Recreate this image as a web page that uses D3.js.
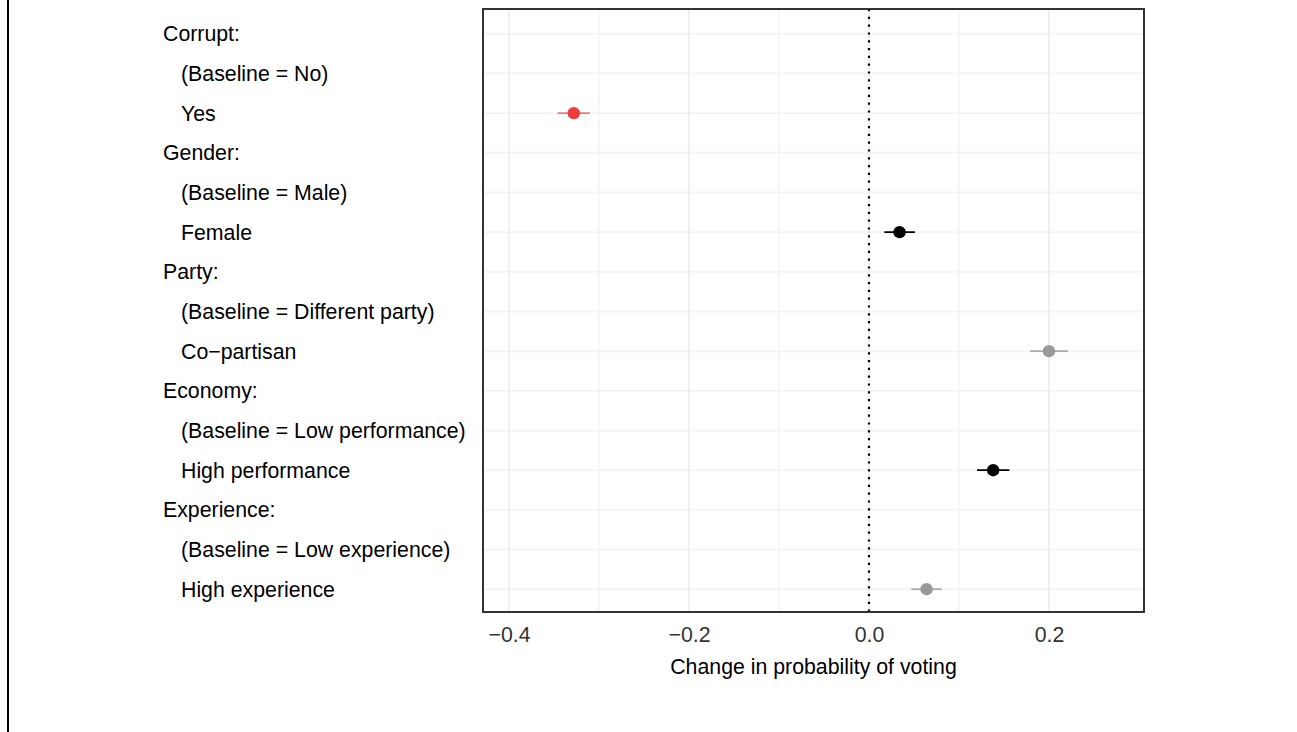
<!DOCTYPE html>
<html>
<head>
<meta charset="utf-8">
<script src="https://cdn.jsdelivr.net/npm/d3@7"></script>
<style>
  html, body { margin: 0; padding: 0; background: #fff; }
  svg { display: block; }
  text { font-family: "Liberation Sans", Arial, Helvetica, sans-serif; }
</style>
</head>
<body>
<svg id="chart" width="1297" height="732"></svg>
<script>
// Row labels, top to bottom (headers are flush, levels are indented)
const rowLabels = [
  "Corrupt:", "(Baseline = No)", "Yes",
  "Gender:", "(Baseline = Male)", "Female",
  "Party:", "(Baseline = Different party)", "Co\u2212partisan",
  "Economy:", "(Baseline = Low performance)", "High performance",
  "Experience:", "(Baseline = Low experience)", "High experience"
];
const rowIsHeader = [1,0,0, 1,0,0, 1,0,0, 1,0,0, 1,0,0];

// Estimated effects with confidence bounds
const effectRows  = ["Yes", "Female", "Co\u2212partisan", "High performance", "High experience"];
const effectEst   = [-0.328, 0.034, 0.200, 0.138, 0.064];
const effectLow   = [-0.346, 0.017, 0.179, 0.120, 0.047];
const effectHigh  = [-0.310, 0.051, 0.221, 0.156, 0.081];
const effectGroup = ["red", "black", "grey", "black", "grey"];

const xTicks = [-0.4, -0.2, 0.0, 0.2];
const xMinorTicks = [-0.3, -0.1, 0.1];
const xTitle = "Change in probability of voting";

const pointColor = { red: "#EE3B3B", black: "#000000", grey: "#999999" };
const barColor   = { red: "#F07C7C", black: "#000000", grey: "#AAAAAA" };

const fontSize = 21.3;

const svg = d3.select("#chart");

// frame line on the left edge
svg.append("line")
  .attr("x1", 8).attr("x2", 8).attr("y1", 0).attr("y2", 732)
  .attr("stroke", "#000").attr("stroke-width", 2);

const panel = { left: 483, right: 1144, top: 9, bottom: 612 };

const x = d3.scaleLinear().domain([-0.4289, 0.3056]).range([panel.left, panel.right]);
const y = d3.scalePoint().domain(rowLabels).range([panel.top, panel.bottom]).padding(0.6);

const g = svg.append("g");

// minor vertical grid
g.selectAll("line.vminor").data(xMinorTicks).join("line")
  .attr("x1", d => x(d)).attr("x2", d => x(d))
  .attr("y1", panel.top).attr("y2", panel.bottom)
  .attr("stroke", "#F0F0F0").attr("stroke-width", 1.2);

// horizontal grid at each row
g.selectAll("line.h").data(rowLabels).join("line")
  .attr("x1", panel.left).attr("x2", panel.right)
  .attr("y1", d => y(d) + 1).attr("y2", d => y(d) + 1)
  .attr("stroke", "#F4F4F4").attr("stroke-width", 2);

// major vertical grid
g.selectAll("line.vmajor").data(xTicks).join("line")
  .attr("x1", d => x(d)).attr("x2", d => x(d))
  .attr("y1", panel.top).attr("y2", panel.bottom)
  .attr("stroke", "#EBEBEB").attr("stroke-width", 1.5);

// zero reference line
g.append("line")
  .attr("x1", x(0)).attr("x2", x(0))
  .attr("y1", panel.top).attr("y2", panel.bottom)
  .attr("stroke", "#000").attr("stroke-width", 2.2)
  .attr("stroke-dasharray", "2.2,5.6");

// confidence intervals
g.selectAll("line.ci").data(effectRows).join("line")
  .attr("x1", (d, i) => x(effectLow[i])).attr("x2", (d, i) => x(effectHigh[i]))
  .attr("y1", d => y(d) + 1).attr("y2", d => y(d) + 1)
  .attr("stroke", (d, i) => barColor[effectGroup[i]]).attr("stroke-width", 1.8);

// point estimates
g.selectAll("circle").data(effectRows).join("circle")
  .attr("cx", (d, i) => x(effectEst[i])).attr("cy", d => y(d) + 1)
  .attr("r", 6.2)
  .attr("fill", (d, i) => pointColor[effectGroup[i]]);

// panel border
g.append("rect")
  .attr("x", panel.left).attr("y", panel.top)
  .attr("width", panel.right - panel.left).attr("height", panel.bottom - panel.top)
  .attr("fill", "none").attr("stroke", "#333333").attr("stroke-width", 2);

// x axis
const xAxis = d3.axisBottom(x).tickValues(xTicks).tickSize(0).tickPadding(15)
  .tickFormat(d => d3.format(".1f")(d).replace("-", "\u2212"));
const ax = svg.append("g").attr("transform", `translate(0,${panel.bottom})`).call(xAxis);
ax.select(".domain").remove();
ax.selectAll("text").attr("font-size", fontSize).attr("fill", "#333333")
  .attr("font-family", "Liberation Sans, Arial, sans-serif");

svg.append("text")
  .attr("x", (panel.left + panel.right) / 2).attr("y", 674)
  .attr("text-anchor", "middle").attr("font-size", fontSize).attr("fill", "#000")
  .text(xTitle);

// row labels
svg.selectAll("text.row").data(rowLabels).join("text")
  .attr("class", "row")
  .attr("x", (d, i) => rowIsHeader[i] ? 163 : 181)
  .attr("y", d => y(d) + 1).attr("dy", "0.35em")
  .attr("font-size", fontSize).attr("fill", "#000")
  .text(d => d);
</script>
</body>
</html>
